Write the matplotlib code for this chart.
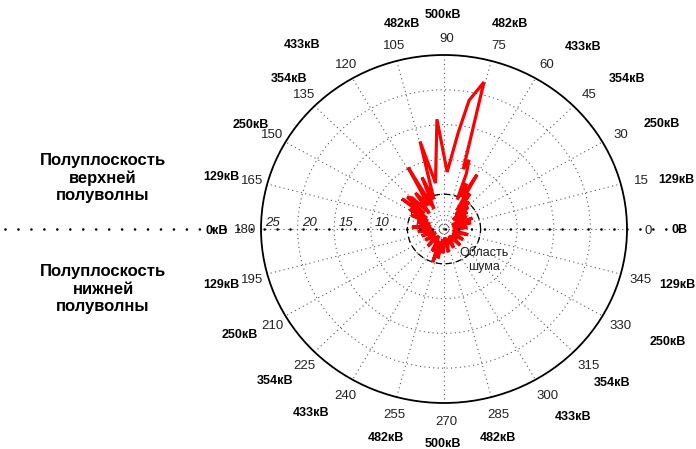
import numpy as np
import matplotlib
matplotlib.use("Agg")
import matplotlib.pyplot as plt
from matplotlib.lines import Line2D
from matplotlib.transforms import offset_copy

plt.rcParams['font.family'] = ['Liberation Sans', 'DejaVu Sans']

# ---- data ----
theta_deg = [0, 4, 9, 14, 18, 22, 27, 31, 35, 38, 41, 44, 46, 49, 52, 55, 57, 60, 62, 65, 67,
             69, 71, 73, 75.5, 79.5, 82, 87, 93.5, 100, 104.6, 108, 112, 115, 119, 122, 127,
             131, 134, 137.7, 140, 143, 146, 149, 152, 156, 160, 165, 170, 176, 180, 186,
             192, 198, 205, 212, 220, 228, 236, 243, 248, 252, 255, 259, 263, 268, 274,
             280, 288, 296, 305, 313, 322, 330, 338, 346, 353, 360]
r_vals = [1.5, 3.2, 1.2, 3.8, 1.5, 4.2, 1.2, 3.6, 2.2, 4.0, 2.0, 4.6, 1.8, 5.2, 2.6, 6.2, 3.2, 9.0,
          5.2, 7.2, 4.6, 8.5, 10.5, 9.0, 21.8, 18.8, 14.0, 8.2, 15.8, 6.7, 13.0, 4.5, 8.0, 3.2,
          10.1, 4.0, 6.5, 3.0, 6.2, 6.8, 3.5, 7.2, 2.8, 5.5, 2.5, 4.9, 2.0, 3.8, 1.8, 4.4, 1.6,
          3.6, 1.5, 3.2, 1.2, 3.0, 1.5, 3.3, 1.2, 3.6, 1.8, 5.0, 2.2, 4.3, 1.5, 3.5, 1.2, 3.4,
          1.4, 3.0, 1.2, 3.2, 1.4, 3.0, 1.3, 3.4, 1.4, 1.5]
noise_radius = 5.0

angle_ticks = list(range(0, 360, 15))
angle_labels = [str(a) for a in angle_ticks]
r_ticks = [5, 10, 15, 20, 25]
r_max = 25

kv_labels = ['0В', '129кВ', '250кВ', '354кВ', '433кВ', '482кВ', '500кВ', '482кВ', '433кВ',
             '354кВ', '250кВ', '129кВ', '0кВ', '129кВ', '250кВ', '354кВ', '433кВ', '482кВ',
             '500кВ', '482кВ', '433кВ', '354кВ', '250кВ', '129кВ']
# label positions in pixels (layout)
kv_pos = [(680, 230), (676, 180), (662, 124), (627, 79), (583, 47), (510, 24), (443, 15),
          (402, 24), (302, 45), (289, 79), (251, 125), (221, 177), (217, 231), (221, 285),
          (240, 335), (275, 381), (311, 413), (386, 438), (443, 444), (498, 438),
          (573, 417), (612, 383), (668, 342), (677, 285)]

W, H = 696, 449
fig = plt.figure(figsize=(W / 100, H / 100), dpi=100)

# dotted horizontal line across the figure
fig.add_artist(Line2D([5 / W, 690 / W], [1 - 229 / H, 1 - 229 / H], transform=fig.transFigure,
                      color='black', lw=1.9, linestyle=(0, (0.01, 4.9)),
                      dash_capstyle='round', zorder=0.5))

ax = fig.add_axes([261 / W, 46 / H, 366 / W, 348 / H], projection='polar')
ax.set_aspect('auto')
ax.patch.set_alpha(0)
ax.set_ylim(0, r_max)
ax.set_yticks(r_ticks)
ax.set_yticklabels([])
ax.set_thetagrids(angle_ticks, labels=[''] * len(angle_ticks))
ax.grid(True, linestyle=(0, (1, 3)), color='0.35', lw=0.8)
ax.spines['polar'].set_linewidth(1.3)

lab_tr = offset_copy(ax.transData, fig=fig, x=2.5, y=-1.5, units='dots')
for a, lab in zip(angle_ticks, angle_labels):
    ax.text(np.deg2rad(a), r_max * 1.1, lab, fontsize=9.5, ha='center', va='center',
            color='#222222', transform=lab_tr, clip_on=False)

for rt in r_ticks:
    ax.text(np.pi, rt - 1.6, str(rt), fontsize=9.5, style='italic', ha='center',
            va='bottom', color='#222222')

# noise region
tt = np.linspace(0, 2 * np.pi, 200)
ax.plot(tt, np.full_like(tt, noise_radius), color='black', lw=0.9, linestyle=(0, (5, 3)))

ax.plot(np.deg2rad(theta_deg), r_vals, color='#ff0000', lw=2.3, zorder=5,
        solid_joinstyle='miter')

ax.text(np.deg2rad(-39), 7.05, 'Область\nшума', fontsize=9, ha='center', va='center',
        color='#222222', linespacing=1.25)

for lab, (px, py) in zip(kv_labels, kv_pos):
    fig.text(px / W, 1 - py / H, lab, fontsize=9, fontweight='bold', ha='center', va='center')

fig.text(103 / W, 1 - 178 / H, 'Полуплоскость\nверхней\nполуволны', fontsize=12,
         fontweight='bold', ha='center', va='center', linespacing=1.2)
fig.text(103 / W, 1 - 289 / H, 'Полуплоскость\nнижней\nполуволны', fontsize=12,
         fontweight='bold', ha='center', va='center', linespacing=1.2)

fig.savefig('out.png', dpi=100)
